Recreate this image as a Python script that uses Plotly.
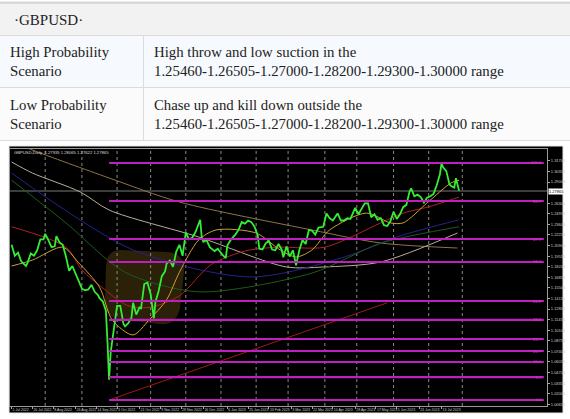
import plotly.graph_objects as go

# ---------------- data ----------------
symbol = "·GBPUSD·"
row_titles = ["High Probability<br>Scenario", "Low Probability<br>Scenario"]
row_texts = [
    "High throw and low suction in the<br>1.25460-1.26505-1.27000-1.28200-1.29300-1.30000 range",
    "Chase up and kill down outside the<br>1.25460-1.26505-1.27000-1.28200-1.29300-1.30000 range",
]
chart_info = "GBPUSD,Daily  1.27935 1.28065 1.27622 1.27865"

price_dates = [
    "2022-07-01", "2022-07-05", "2022-07-07", "2022-07-11", "2022-07-14", "2022-07-15", "2022-07-19",
    "2022-07-21", "2022-07-25", "2022-07-27", "2022-07-29", "2022-08-01", "2022-08-03", "2022-08-05",
    "2022-08-09", "2022-08-10", "2022-08-12", "2022-08-16", "2022-08-18", "2022-08-22", "2022-08-24",
    "2022-08-26", "2022-08-30", "2022-09-01", "2022-09-05", "2022-09-07", "2022-09-09", "2022-09-13",
    "2022-09-15", "2022-09-16", "2022-09-20", "2022-09-22", "2022-09-23", "2022-09-26", "2022-09-27",
    "2022-09-28", "2022-09-30", "2022-10-03", "2022-10-05", "2022-10-07", "2022-10-10", "2022-10-12",
    "2022-10-14", "2022-10-17", "2022-10-19", "2022-10-21", "2022-10-24", "2022-10-26", "2022-10-28",
    "2022-11-01", "2022-11-03", "2022-11-04", "2022-11-08", "2022-11-10", "2022-11-14", "2022-11-15",
    "2022-11-17", "2022-11-21", "2022-11-23", "2022-11-25", "2022-11-29", "2022-12-01", "2022-12-05",
    "2022-12-07", "2022-12-09", "2022-12-13", "2022-12-14", "2022-12-15", "2022-12-16", "2022-12-20",
    "2022-12-22", "2022-12-27", "2022-12-29", "2023-01-03", "2023-01-05", "2023-01-06", "2023-01-10",
    "2023-01-13", "2023-01-17", "2023-01-19", "2023-01-23", "2023-01-25", "2023-01-27", "2023-01-31",
    "2023-02-02", "2023-02-03", "2023-02-07", "2023-02-09", "2023-02-13", "2023-02-15", "2023-02-17",
    "2023-02-21", "2023-02-23", "2023-02-24", "2023-02-28", "2023-03-02", "2023-03-06", "2023-03-08",
    "2023-03-10", "2023-03-14", "2023-03-16", "2023-03-20", "2023-03-22", "2023-03-24", "2023-03-28",
    "2023-03-31", "2023-04-04", "2023-04-06", "2023-04-10", "2023-04-13", "2023-04-17", "2023-04-19",
    "2023-04-21", "2023-04-25", "2023-04-28", "2023-05-02", "2023-05-04", "2023-05-08", "2023-05-10",
    "2023-05-12", "2023-05-16", "2023-05-18", "2023-05-22", "2023-05-24", "2023-05-26", "2023-05-30",
    "2023-06-01", "2023-06-05", "2023-06-07", "2023-06-09", "2023-06-13", "2023-06-15", "2023-06-16",
    "2023-06-20", "2023-06-22", "2023-06-26", "2023-06-28", "2023-06-30", "2023-07-04", "2023-07-06",
    "2023-07-10", "2023-07-12", "2023-07-13", "2023-07-14", "2023-07-18", "2023-07-20", "2023-07-21",
    "2023-07-25", "2023-07-26", "2023-07-27", "2023-07-28",
]
price_close = [
    1.2100, 1.1960, 1.2000, 1.1890, 1.1830, 1.1870, 1.1990,
    1.1960, 1.2030, 1.2170, 1.2170, 1.2240, 1.2160, 1.2070,
    1.2080, 1.2210, 1.2130, 1.2100, 1.1950, 1.1770, 1.1830,
    1.1730, 1.1640, 1.1540, 1.1520, 1.1530, 1.1590, 1.1500,
    1.1460, 1.1420, 1.1380, 1.1260, 1.0860, 1.0380, 1.0730,
    1.0890, 1.1170, 1.1320, 1.1320, 1.1090, 1.1060, 1.1100,
    1.1170, 1.1360, 1.1210, 1.1300, 1.1290, 1.1600, 1.1620,
    1.1470, 1.1160, 1.1370, 1.1510, 1.1700, 1.1760, 1.1860,
    1.1900, 1.1820, 1.2010, 1.2100, 1.1960, 1.2260, 1.2170,
    1.2190, 1.2260, 1.2370, 1.2420, 1.2190, 1.2140, 1.2160,
    1.2070, 1.2020, 1.2050, 1.1970, 1.1930, 1.2090, 1.2160,
    1.2230, 1.2290, 1.2390, 1.2370, 1.2410, 1.2390, 1.2330,
    1.2220, 1.2050, 1.2040, 1.2120, 1.2150, 1.2040, 1.2030,
    1.2110, 1.2040, 1.1940, 1.2080, 1.1950, 1.2030, 1.1840,
    1.2030, 1.2160, 1.2110, 1.2290, 1.2280, 1.2230, 1.2320,
    1.2330, 1.2500, 1.2440, 1.2410, 1.2500, 1.2410, 1.2410,
    1.2440, 1.2430, 1.2570, 1.2490, 1.2570, 1.2630, 1.2630,
    1.2450, 1.2490, 1.2420, 1.2440, 1.2350, 1.2340, 1.2400,
    1.2520, 1.2430, 1.2490, 1.2580, 1.2610, 1.2780, 1.2820,
    1.2720, 1.2740, 1.2710, 1.2640, 1.2700, 1.2720, 1.2750,
    1.2860, 1.3000, 1.3140, 1.3090, 1.3040, 1.2870, 1.2850,
    1.2830, 1.2950, 1.2850, 1.2790,
]
last_price = 1.27865

# moving averages
ma_yellow_dates = ["2022-07-01", "2022-07-20", "2022-08-16", "2022-08-30", "2022-09-16", "2022-09-28",
                   "2022-10-17", "2022-10-31", "2022-11-15", "2022-11-25", "2022-12-13", "2022-12-28",
                   "2023-02-01", "2023-02-22", "2023-03-08", "2023-03-22", "2023-04-06", "2023-05-09",
                   "2023-05-30", "2023-06-09", "2023-06-30", "2023-07-21", "2023-07-28"]
ma_yellow = [1.1830, 1.1905, 1.2070, 1.1870, 1.1560, 1.1140,
             1.0950, 1.1140, 1.1400, 1.1750, 1.2160, 1.2290,
             1.2250, 1.2035, 1.1945, 1.2035, 1.2290, 1.2505,
             1.2380, 1.2380, 1.2635, 1.2890, 1.2925]
ma_red_dates = ["2022-07-01", "2022-08-18", "2022-09-01", "2022-09-20", "2022-10-11", "2022-10-31",
                "2022-11-25", "2022-12-23", "2023-01-25", "2023-02-22", "2023-04-03", "2023-05-22",
                "2023-06-09", "2023-07-03", "2023-07-28"]
ma_red = [1.2330, 1.2070, 1.1780, 1.1550, 1.1330, 1.1300,
          1.1450, 1.1850, 1.2030, 1.2070, 1.2070, 1.2380,
          1.2505, 1.2585, 1.2710]
ma_blue_dates = ["2022-07-01", "2022-10-17", "2023-01-27", "2023-04-20", "2023-06-05", "2023-07-28"]
ma_blue = [1.3015, 1.2035, 1.1690, 1.1950, 1.2200, 1.2420]
ma_green_dates = ["2022-07-01", "2022-08-18", "2022-10-10", "2022-12-13", "2023-03-22", "2023-05-22", "2023-07-28"]
ma_green = [1.2925, 1.2380, 1.1750, 1.1500, 1.1740, 1.2120, 1.2330]
ma_tan_dates = ["2022-07-01", "2022-07-20", "2022-08-31", "2022-09-26", "2022-12-13", "2023-02-28",
                "2023-03-31", "2023-05-22", "2023-07-27"]
ma_tan = [1.3157, 1.3016, 1.2774, 1.2544, 1.2200, 1.1817, 1.1817, 1.1881, 1.2251]
ma_brown_dates = ["2022-07-01", "2022-07-20", "2022-09-26", "2022-11-25", "2023-03-22", "2023-05-22", "2023-07-27"]
ma_brown = [1.3420, 1.3310, 1.2953, 1.2646, 1.2289, 1.2123, 1.2059]

# trend line
trend_dates = ["2022-09-26", "2023-05-26"]
trend_prices = [1.0120, 1.1360]

# horizontal levels
level_start = "2022-09-26"
level_end = "2023-10-11"
levels = [1.31440, 1.26590, 1.21740, 1.18810, 1.13830, 1.11410, 1.08980, 1.07450, 1.06050, 1.04130, 1.01200]
level_labels = ["100.0", "83.9", "67.9", "58.2", "41.8", "33.8", "25.7", "20.7", "16.0", "9.7", "0.0"]

# axes
month_grid = ["2022-08-01", "2022-09-01", "2022-10-03", "2022-11-01", "2022-12-01", "2023-01-02",
              "2023-02-01", "2023-03-01", "2023-04-03", "2023-05-01", "2023-06-01", "2023-07-03", "2023-08-01"]
x_tick_dates = ["2022-07-01", "2022-07-20", "2022-08-08", "2022-08-26", "2022-09-14", "2022-10-03",
                "2022-10-21", "2022-11-09", "2022-11-28", "2022-12-16", "2023-01-06", "2023-01-25",
                "2023-02-13", "2023-03-03", "2023-03-22", "2023-04-10", "2023-04-28", "2023-05-17",
                "2023-06-05", "2023-06-23", "2023-07-13"]
x_tick_labels = ["1 Jul 2022", "20 Jul 2022", "8 Aug 2022", "26 Aug 2022", "14 Sep 2022", "3 Oct 2022",
                 "21 Oct 2022", "9 Nov 2022", "28 Nov 2022", "16 Dec 2022", "6 Jan 2023", "25 Jan 2023",
                 "13 Feb 2023", "3 Mar 2023", "22 Mar 2023", "10 Apr 2023", "28 Apr 2023", "17 May 2023",
                 "5 Jun 2023", "23 Jun 2023", "13 Jul 2023"]
y_ticks = [1.31705, 1.30355, 1.29005, 1.26305, 1.24955, 1.23605, 1.22255, 1.20905, 1.19555,
           1.18205, 1.16855, 1.15505, 1.14155, 1.12805, 1.11455, 1.10105, 1.08755, 1.07405,
           1.06055, 1.04705, 1.03355, 1.02005, 1.00655]
x_range = ["2022-06-30", "2023-10-13"]
y_range = [1.00433, 1.33226]

# ---------------- figure ----------------
W, H = 570, 419
def px(x):
    return x / W
def py(y):
    return 1 - y / H

SERIF = "Liberation Serif, Times New Roman, serif"
SMALL = "Liberation Sans, Arial, sans-serif"

fig = go.Figure()

def ma_trace(d, v, color, width=1):
    fig.add_trace(go.Scatter(x=d, y=v, mode="lines", line=dict(color=color, width=width, shape="spline", smoothing=0.8),
                             hoverinfo="skip", showlegend=False))

ma_trace(ma_brown_dates, ma_brown, "#8f7447")
ma_trace(ma_tan_dates, ma_tan, "#b9ae98")
ma_trace(ma_blue_dates, ma_blue, "#23238f")
ma_trace(ma_green_dates, ma_green, "#1d5a1d")
ma_trace(ma_red_dates, ma_red, "#b02020")
fig.add_trace(go.Scatter(x=trend_dates, y=trend_prices, mode="lines", line=dict(color="#a01818", width=1),
                         hoverinfo="skip", showlegend=False))
ma_trace(ma_yellow_dates, ma_yellow, "#d0a030")

fig.add_trace(go.Scatter(x=price_dates, y=price_close, mode="lines", line=dict(color="#33ee33", width=1.8),
                         hoverinfo="skip", showlegend=False))

shapes = []
# table backgrounds
shapes.append(dict(type="rect", xref="paper", yref="paper", x0=0, x1=1, y0=py(4), y1=py(1.5),
                   fillcolor="#d8d8d8", line_width=0, layer="below"))
shapes.append(dict(type="rect", xref="paper", yref="paper", x0=0, x1=1, y0=py(35), y1=py(4),
                   fillcolor="#f2f2f2", line_width=0, layer="below"))
shapes.append(dict(type="rect", xref="paper", yref="paper", x0=0, x1=1, y0=py(87), y1=py(36),
                   fillcolor="#f6f9fd", line_width=0, layer="below"))
shapes.append(dict(type="rect", xref="paper", yref="paper", x0=0, x1=1, y0=py(140), y1=py(88),
                   fillcolor="#fbfbfb", line_width=0, layer="below"))
for yy in (35.5, 87.5, 140.5):
    shapes.append(dict(type="line", xref="paper", yref="paper", x0=0, x1=1, y0=py(yy), y1=py(yy),
                       line=dict(color="#dcdcdc", width=1), layer="below"))
shapes.append(dict(type="line", xref="paper", yref="paper", x0=px(143.5), x1=px(143.5), y0=py(36), y1=py(140),
                   line=dict(color="#dcdcdc", width=1), layer="below"))
# chart black background + watermark
shapes.append(dict(type="rect", xref="paper", yref="paper", x0=px(9), x1=px(563), y0=py(413), y1=py(146),
                   fillcolor="#000000", line=dict(color="#e6e6e6", width=1), layer="below"))
shapes.append(dict(type="path", xref="paper", yref="paper",
                   path=f"M {px(120)},{py(250)} L {px(168)},{py(252)} Q {px(186)},{py(254)} {px(184)},{py(272)} "
                        f"L {px(180)},{py(308)} Q {px(176)},{py(326)} {px(160)},{py(324)} L {px(122)},{py(320)} "
                        f"Q {px(104)},{py(318)} {px(105)},{py(300)} L {px(106)},{py(266)} Q {px(107)},{py(250)} {px(120)},{py(250)} Z",
                   fillcolor="rgba(95,72,18,0.45)", line_width=0, layer="below"))
# monthly grid
for d in month_grid:
    shapes.append(dict(type="line", xref="x", yref="y domain", x0=d, x1=d, y0=0, y1=1,
                       line=dict(color="#8a8a8a", width=1, dash="dot"), layer="below"))
# current price line
shapes.append(dict(type="line", xref="x domain", yref="y", x0=0, x1=1, y0=last_price, y1=last_price,
                   line=dict(color="#7a7a7a", width=1), layer="below"))
# levels
for lv in levels:
    shapes.append(dict(type="line", xref="x", yref="y", x0=level_start, x1=level_end, y0=lv, y1=lv,
                       line=dict(color="#bf1fbf", width=2.2), layer="above"))

annotations = []
annotations.append(dict(xref="paper", yref="paper", x=px(12), y=py(19.5), text=symbol, showarrow=False,
                        xanchor="left", yanchor="middle", font=dict(family=SERIF, size=15, color="#222222")))
for i, (t, s) in enumerate(zip(row_titles, row_texts)):
    yc = 61 + i * 53
    annotations.append(dict(xref="paper", yref="paper", x=px(8), y=py(yc), text=t, showarrow=False, align="left",
                            xanchor="left", yanchor="middle", font=dict(family=SERIF, size=14.8, color="#222222")))
    annotations.append(dict(xref="paper", yref="paper", x=px(152), y=py(yc), text=s, showarrow=False, align="left",
                            xanchor="left", yanchor="middle", font=dict(family=SERIF, size=14.8, color="#222222")))
annotations.append(dict(xref="paper", yref="paper", x=px(12), y=py(152.5), text=chart_info, showarrow=False,
                        xanchor="left", yanchor="middle", font=dict(family=SMALL, size=4.2, color="#dddddd")))
for lv, lb in zip(levels, level_labels):
    annotations.append(dict(xref="x", yref="y", x=level_end, y=lv, text=lb, showarrow=False,
                            xanchor="right", yanchor="middle", font=dict(family=SMALL, size=4, color="#d040d0")))
annotations.append(dict(xref="paper", yref="y", x=px(548), y=last_price, text=f"{last_price:.5f}", showarrow=False,
                        xanchor="left", yanchor="middle", bgcolor="#ffffff", borderpad=0,
                        font=dict(family=SMALL, size=4, color="#000000")))

fig.update_layout(
    width=W, height=H,
    margin=dict(l=0, r=0, t=0, b=0),
    paper_bgcolor="#ffffff", plot_bgcolor="#000000",
    showlegend=False,
    shapes=shapes, annotations=annotations,
    xaxis=dict(domain=[px(10), px(547)], type="date", range=x_range,
               rangebreaks=[dict(bounds=["sat", "mon"])],
               tickmode="array", tickvals=x_tick_dates, ticktext=x_tick_labels, tickangle=0,
               ticklabelposition="outside right", ticks="outside", ticklen=2, tickcolor="#aaaaaa",
               tickfont=dict(family=SMALL, size=3.5, color="#cccccc"),
               showgrid=False, zeroline=False, showline=True, linecolor="#9a9a9a", linewidth=1, mirror=True),
    yaxis=dict(domain=[py(406), py(149)], range=y_range, side="right",
               tickmode="array", tickvals=y_ticks, ticktext=[f"{v:.5f}" for v in y_ticks],
               ticks="outside", ticklen=2, tickcolor="#aaaaaa",
               tickfont=dict(family=SMALL, size=4, color="#cccccc"),
               showgrid=False, zeroline=False, showline=True, linecolor="#9a9a9a", linewidth=1, mirror=True),
)

fig.write_html("out.html", config={"displayModeBar": False},
               post_script="document.body.style.margin='0';document.body.style.padding='0';"
                           "document.documentElement.style.overflow='hidden';document.body.style.overflow='hidden';")
